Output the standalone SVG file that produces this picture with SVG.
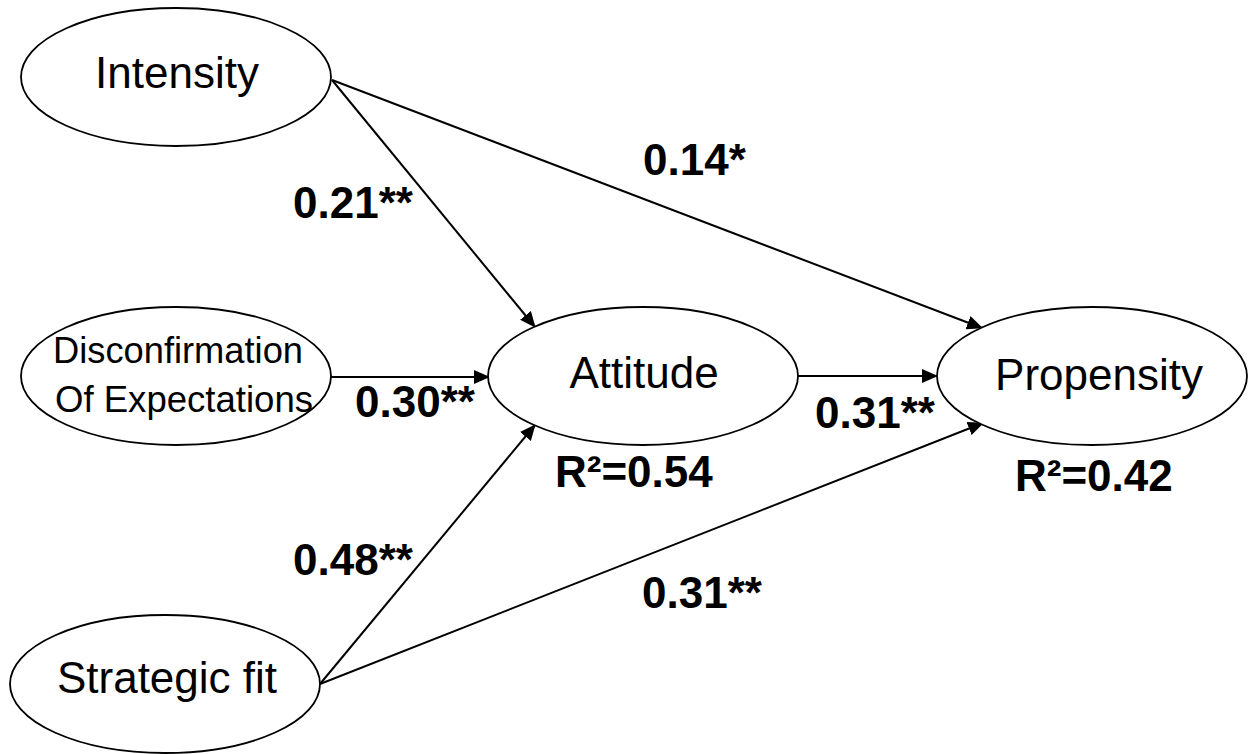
<svg xmlns="http://www.w3.org/2000/svg" width="1249" height="754" viewBox="0 0 1249 754">
<defs>
<marker id="arr" markerUnits="userSpaceOnUse" markerWidth="16" markerHeight="14" refX="15" refY="7" orient="auto" viewBox="0 0 16 14">
<path d="M0,0 L16,7 L0,14 z" fill="#000"/>
</marker>
<style>
.node ellipse{fill:#fff;stroke:#000;stroke-width:1.8}
.nt{font-family:"Liberation Sans",Arial,sans-serif;font-size:44px;fill:#000;text-anchor:middle}
.nt2{font-family:"Liberation Sans",Arial,sans-serif;font-size:36px;fill:#000}
.lbl{font-family:"Liberation Sans",Arial,sans-serif;font-size:44px;font-weight:bold;fill:#000}
.conn line{stroke:#000;stroke-width:2;marker-end:url(#arr)}
</style>
</defs>
<rect width="1249" height="754" fill="#fff"/>
<g id="connectors" class="conn">
<line x1="332" y1="80" x2="982" y2="328"/>
<line x1="332" y1="80" x2="535" y2="327"/>
<line x1="331" y1="377" x2="489" y2="377"/>
<line x1="798" y1="376" x2="937" y2="376"/>
<line x1="320" y1="684" x2="535" y2="425"/>
<line x1="320" y1="684" x2="983" y2="423"/>
</g>
<g id="intensity" class="node">
<ellipse cx="176" cy="77" rx="155" ry="69"/>
<text class="nt" x="177" y="88">Intensity</text>
</g>
<g id="disconfirmation" class="node">
<ellipse cx="176" cy="376" rx="155" ry="69"/>
<text class="nt2" x="53" y="363" textLength="250" lengthAdjust="spacingAndGlyphs">Disconfirmation</text>
<text class="nt2" x="55" y="412" textLength="258" lengthAdjust="spacingAndGlyphs">Of Expectations</text>
</g>
<g id="strategic" class="node">
<ellipse cx="165" cy="684" rx="155" ry="69"/>
<text class="nt" x="167" y="693">Strategic fit</text>
</g>
<g id="attitude" class="node">
<ellipse cx="643" cy="376" rx="155" ry="69"/>
<text class="nt" x="644" y="388">Attitude</text>
</g>
<g id="propensity" class="node">
<ellipse cx="1092" cy="376" rx="155" ry="69"/>
<text class="nt" x="1099" y="390">Propensity</text>
</g>
<g id="labels">
<text class="lbl" x="643" y="175">0.14*</text>
<text class="lbl" x="293" y="218">0.21**</text>
<text class="lbl" x="355" y="417">0.30**</text>
<text class="lbl" x="815" y="428">0.31**</text>
<text class="lbl" x="555" y="487">R²=0.54</text>
<text class="lbl" x="1015" y="491">R²=0.42</text>
<text class="lbl" x="293" y="575">0.48**</text>
<text class="lbl" x="642" y="608">0.31**</text>
</g>
</svg>
